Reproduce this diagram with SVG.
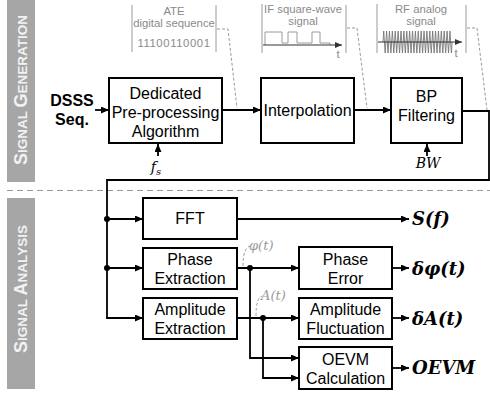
<svg xmlns="http://www.w3.org/2000/svg" width="490" height="394" viewBox="0 0 490 394">
<style>
.box{fill:#fff;stroke:#000;stroke-width:2}
.bt{font-family:"Liberation Sans",Arial,sans-serif;font-size:16px;text-anchor:middle;fill:#000}
.side{font-family:"Liberation Sans",Arial,sans-serif;font-weight:bold;fill:#f2f2f2;text-anchor:middle}
.gt{font-family:"Liberation Sans",Arial,sans-serif;font-size:11.3px;text-anchor:middle;fill:#8a8a8a}
.gl{stroke:#9a9a9a;stroke-width:1;fill:none}
.gd{stroke:#9a9a9a;stroke-width:1;fill:none;stroke-dasharray:3 2}
.ln{stroke:#000;stroke-width:1.8;fill:none}
.math{font-family:"DejaVu Serif",serif;font-weight:bold;font-style:italic;font-size:18px;fill:#000}
.gm{font-family:"DejaVu Serif",serif;font-style:italic;font-size:13px;fill:#9a9a9a}
.im{font-family:"DejaVu Serif",serif;font-style:italic;font-size:14px;fill:#000;text-anchor:middle}
</style>
<defs>
<marker id="ar" markerUnits="userSpaceOnUse" markerWidth="9" markerHeight="8" refX="8" refY="3.5" orient="auto"><path d="M0,0 L8,3.5 L0,7 z" fill="#000"/></marker>
<marker id="ag" markerUnits="userSpaceOnUse" markerWidth="8" markerHeight="7" refX="7" refY="3" orient="auto"><path d="M0,0 L7,3 L0,6 z" fill="#333"/></marker>
</defs>

<g id="sidebar-gen">
<rect x="7" y="0" width="28" height="182" fill="#a6a6a6"/>
<text class="side" transform="translate(27 90) rotate(-90)"><tspan font-size="18">S</tspan><tspan font-size="13.5">IGNAL </tspan><tspan font-size="18">G</tspan><tspan font-size="13.5">ENERATION</tspan></text>
</g>
<g id="sidebar-ana">
<rect x="7" y="198" width="28" height="191" fill="#a6a6a6"/>
<text class="side" transform="translate(27 289) rotate(-90)"><tspan font-size="18">S</tspan><tspan font-size="13.5">IGNAL </tspan><tspan font-size="18">A</tspan><tspan font-size="13.5">NALYSIS</tspan></text>
</g>
<line x1="7" y1="190.5" x2="490" y2="190.5" stroke="#9a9a9a" stroke-width="1" stroke-dasharray="6 4"/>

<g id="inset-ate">
<path class="gl" d="M132,5 V52 M216,5 V52"/>
<text class="gt" x="174" y="15">ATE</text>
<text class="gt" x="174" y="27">digital sequence</text>
<text class="gt" x="174" y="47" letter-spacing="0.6">11100110001</text>
<path class="gd" d="M217,29 H228 L237,108"/>
</g>
<g id="inset-if">
<path class="gl" d="M262,4 V53 M346,5 V53"/>
<text class="gt" x="303" y="13">IF square-wave</text>
<text class="gt" x="303" y="25">signal</text>
<path class="gl" stroke="#555" d="M265,45 V32 H282 V43 H288 V32 H297 V43 H312 V32 H320 V43 H330 V45"/>
<line x1="263" y1="45" x2="342" y2="45" stroke="#333" stroke-width="1" marker-end="url(#ag)"/>
<text class="gt" x="338" y="58">t</text>
<path class="gd" d="M347,28 H357 L367,108"/>
</g>
<g id="inset-rf">
<path class="gl" d="M377,4 V53 M466,5 V53"/>
<text class="gt" x="421" y="13">RF analog</text>
<text class="gt" x="421" y="25">signal</text>
<path stroke="#777" stroke-width="0.9" fill="none" d="M383,42 l.72-11 1.44 22 .72-11 l.72-11 1.44 22 .72-11 l.72-11 1.44 22 .72-11 l.72-11 1.44 22 .72-11 l.72-11 1.44 22 .72-11 l.72-11 1.44 22 .72-11 l.72-11 1.44 22 .72-11 l.72-11 1.44 22 .72-11 l.72-11 1.44 22 .72-11 l.72-11 1.44 22 .72-11 l.72-11 1.44 22 .72-11 l.72-11 1.44 22 .72-11 l.72-11 1.44 22 .72-11 l.72-11 1.44 22 .72-11 l.72-11 1.44 22 .72-11 l.72-11 1.44 22 .72-11 l.72-11 1.44 22 .72-11 l.72-11 1.44 22 .72-11 l.72-11 1.44 22 .72-11 l.72-11 1.44 22 .72-11 l.72-11 1.44 22 .72-11 l.72-11 1.44 22 .72-11 l.72-11 1.44 22 .72-11 l.72-11 1.44 22 .72-11"/>
<line x1="378" y1="42" x2="462" y2="42" stroke="#333" stroke-width="1" marker-end="url(#ag)"/>
<text class="gt" x="456" y="57">t</text>
<path class="gd" d="M467,28 H477 L487,110"/>
</g>

<g id="connectors">
<line class="ln" x1="95" y1="110" x2="109" y2="110" marker-end="url(#ar)"/>
<line class="ln" x1="158" y1="156" x2="158" y2="144" marker-end="url(#ar)"/>
<line class="ln" x1="222" y1="110" x2="261" y2="110" marker-end="url(#ar)"/>
<line class="ln" x1="354" y1="110" x2="391" y2="110" marker-end="url(#ar)"/>
<line class="ln" x1="427" y1="156" x2="427" y2="144" marker-end="url(#ar)"/>
<path class="ln" d="M462,111 H489 V180 H107 V318 H143" marker-end="url(#ar)"/>
<line class="ln" x1="107" y1="219" x2="143" y2="219" marker-end="url(#ar)"/>
<line class="ln" x1="107" y1="268" x2="143" y2="268" marker-end="url(#ar)"/>
<circle cx="107" cy="219" r="3"/>
<circle cx="107" cy="268" r="3"/>
<line class="ln" x1="237" y1="219" x2="409" y2="219" marker-end="url(#ar)"/>
<line class="ln" x1="237" y1="268" x2="299" y2="268" marker-end="url(#ar)"/>
<line class="ln" x1="237" y1="318" x2="299" y2="318" marker-end="url(#ar)"/>
<path class="ln" d="M250,268 V358 H299" marker-end="url(#ar)"/>
<path class="ln" d="M263,318 V378 H299" marker-end="url(#ar)"/>
<circle cx="250" cy="268" r="3"/>
<circle cx="263" cy="318" r="3"/>
<line class="ln" x1="392" y1="268" x2="409" y2="268" marker-end="url(#ar)"/>
<line class="ln" x1="392" y1="318" x2="409" y2="318" marker-end="url(#ar)"/>
<line class="ln" x1="392" y1="368" x2="409" y2="368" marker-end="url(#ar)"/>
<path class="gd" d="M243,266 Q243,248 250,246"/>
<path class="gd" d="M256,316 Q256,298 262,296"/>
</g>

<g id="n-dsss">
<text class="bt" font-size="17" font-weight="bold" x="72" y="106">DSSS</text>
<text class="bt" font-size="17" font-weight="bold" x="72" y="125">Seq.</text>
</g>
<g id="n-preproc">
<rect class="box" x="109" y="78" width="113" height="65"/>
<text class="bt" x="165.5" y="99">Dedicated</text>
<text class="bt" x="165.5" y="118">Pre-processing</text>
<text class="bt" x="165.5" y="137">Algorithm</text>
<text class="im" x="156" y="172">f<tspan font-size="10" dy="3">s</tspan></text>
</g>
<g id="n-interp">
<rect class="box" x="261" y="78" width="93" height="65"/>
<text class="bt" x="307.5" y="116">Interpolation</text>
</g>
<g id="n-bp">
<rect class="box" x="391" y="78" width="71" height="65"/>
<text class="bt" x="426.5" y="102">BP</text>
<text class="bt" x="426.5" y="121">Filtering</text>
<text class="im" x="428" y="168">BW</text>
</g>
<g id="n-fft">
<rect class="box" x="143" y="198" width="94" height="41"/>
<text class="bt" x="190" y="224">FFT</text>
</g>
<g id="n-phext">
<rect class="box" x="143" y="248" width="94" height="41"/>
<text class="bt" x="190" y="265">Phase</text>
<text class="bt" x="190" y="284">Extraction</text>
</g>
<g id="n-ampext">
<rect class="box" x="143" y="298" width="94" height="41"/>
<text class="bt" x="190" y="315">Amplitude</text>
<text class="bt" x="190" y="334">Extraction</text>
</g>
<g id="n-pherr">
<rect class="box" x="299" y="247" width="93" height="42"/>
<text class="bt" x="345.5" y="265">Phase</text>
<text class="bt" x="345.5" y="284">Error</text>
</g>
<g id="n-ampfl">
<rect class="box" x="299" y="298" width="93" height="41"/>
<text class="bt" x="345.5" y="315">Amplitude</text>
<text class="bt" x="345.5" y="334">Fluctuation</text>
</g>
<g id="n-oevm">
<rect class="box" x="299" y="347" width="93" height="42"/>
<text class="bt" x="345.5" y="365">OEVM</text>
<text class="bt" x="345.5" y="384">Calculation</text>
</g>

<g id="labels">
<text class="gm" x="249" y="250">φ(t)</text>
<text class="gm" x="261" y="300">A(t)</text>
<text class="math" x="412" y="225">S(f)</text>
<text class="math" x="412" y="275">δφ(t)</text>
<text class="math" x="412" y="325">δA(t)</text>
<text class="math" x="412" y="374">OEVM</text>
</g>
</svg>
